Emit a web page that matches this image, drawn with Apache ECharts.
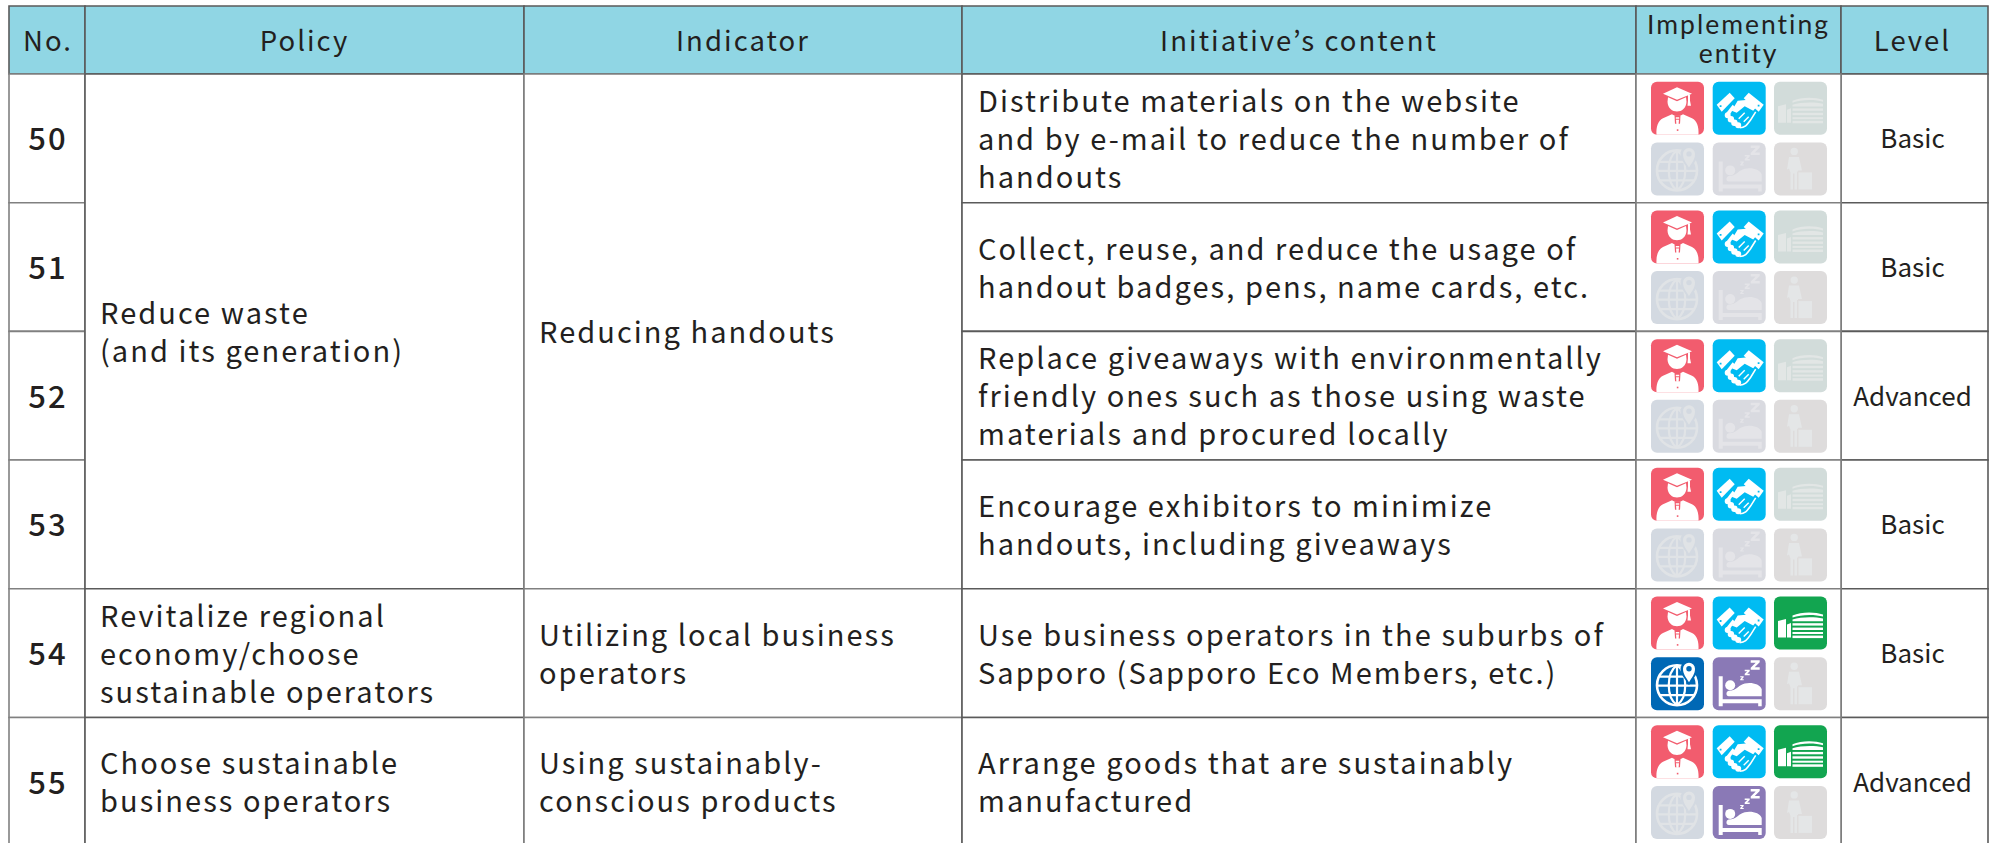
<!DOCTYPE html>
<html><head><meta charset="utf-8">
<style>
html,body{margin:0;padding:0;background:#fff;overflow:hidden}
#chart{width:1989px;height:843px}
#chart text{letter-spacing:2.05px}
#chart text[style*="Lato"]{letter-spacing:2px}
#chart text[style*="CJK SC"]{letter-spacing:0}
</style>
<script src="https://cdn.jsdelivr.net/npm/echarts@6/dist/echarts.min.js"></script>
</head><body><div id="chart"></div>
<script>
// ---------- table content ----------
const headers = ['No.', 'Policy', 'Indicator', 'Initiative\u2019s content', 'Implementing\nentity', 'Level'];
const numbers = ['50', '51', '52', '53', '54', '55'];
const policies = [
  { from: 0, to: 3, text: 'Reduce waste\n(and its generation)' },
  { from: 4, to: 4, text: 'Revitalize regional\neconomy/choose\nsustainable operators' },
  { from: 5, to: 5, text: 'Choose sustainable\nbusiness operators' }
];
const indicators = [
  { from: 0, to: 3, text: 'Reducing handouts' },
  { from: 4, to: 4, text: 'Utilizing local business\noperators' },
  { from: 5, to: 5, text: 'Using sustainably-\nconscious products' }
];
const initiatives = [
  'Distribute materials on the website\nand by e-mail to reduce the number of\nhandouts',
  'Collect, reuse, and reduce the usage of\nhandout badges, pens, name cards, etc.',
  'Replace giveaways with environmentally\nfriendly ones such as those using waste\nmaterials and procured locally',
  'Encourage exhibitors to minimize\nhandouts, including giveaways',
  'Use business operators in the suburbs of\nSapporo (Sapporo Eco Members, etc.)',
  'Arrange goods that are sustainably\nmanufactured'
];
const levels = ['Basic', 'Basic', 'Advanced', 'Basic', 'Basic', 'Advanced'];
// order of entities: organizer, partner, venue, destination, lodging, traveller
const entityActive = [
  [1, 1, 0, 0, 0, 0],
  [1, 1, 0, 0, 0, 0],
  [1, 1, 0, 0, 0, 0],
  [1, 1, 0, 0, 0, 0],
  [1, 1, 1, 1, 1, 0],
  [1, 1, 1, 0, 1, 0]
];

// ---------- layout and style ----------
const colEdges = [9, 85, 524, 962, 1636, 1841, 1988];
const rowEdges = [74, 202.7, 331.4, 460, 588.8, 717.5, 846];
const tableTop = 6;
const ink = '#231f20', headFill = '#90d6e4', lineDark = '#5a5a5a', lineRow = '#808080';
const FONT = '"Noto Sans CJK JP"', FONT_NARROW = '"Noto Sans CJK SC"', FONT_TIGHT = 'Lato';
const iconSize = 53, iconX = [1651, 1712.7, 1774], iconY = [7.8, 68.4];
const iconBg = [
  ['#f25c6e', '#f25c6e'], ['#00bbf2', '#00bbf2'], ['#12a550', '#d2dcda'],
  ['#0068b5', '#d3d9e1'], ['#8a79b6', '#d9dae0'], ['#8a8a8a', '#dedcdc']
];
const iconFgOff = ['#ffffff', '#ffffff', '#e2e6e5', '#e0e3e6', '#e4e4e8', '#e4e6e7'];

// glyph parts: [kind, pathData, strokeWidth]  f=fill fg, b=fill bg, s=stroke fg, t=stroke bg
const glyphs = [
  [ // graduate
    ['f', 'M26 5.5 L41 12 L26 18 L12 12 Z'],
    ['f', 'M17 15.5 L26 19.5 L35 15.5 L35.5 20 C35 33 17 33 16.5 20 Z'],
    ['f', 'M37 13 H39 V19 L40 24 H36.5 L37 19 Z'],
    ['f', 'M5.5 53 C5 45 7 39 12 36.5 L21 32.5 C24 34.5 29 34.5 32 32.5 L41 36.5 C46 39 48 45 47.5 53 Z'],
    ['b', 'M23.5 33.5 H29.5 L29 42 H24 Z'],
    ['f', 'M24.8 35.5 H28.2 V37 H24.8 Z M25 38 H28 L27.6 42.5 H25.4 Z'],
    ['b', 'M25.8 47.5 h1.6 v1.6 h-1.6 Z']
  ],
  [ // handshake
    ['f', 'M4 23 L17 11 L22 16.5 L9 30 Z'],
    ['f', 'M36 11 L51 23 L46 30 L31 16.5 Z'],
    ['b', 'M7 23.5 h1.8 v1.8 h-1.8 Z M45 23 h1.8 v1.8 h-1.8 Z'],
    ['f', 'M19 29 L25 19 L36 18 L43 26 L40.5 29 L32 24.5 L24 31 Z'],
    ['f', 'M13 32 L20 23 L22 25 L17 33 Z'],
    ['f', 'M12 33.5 a3 3 0 1 1 6 0 a3 3 0 1 1 -6 0 Z M15 37.5 a3.2 3.2 0 1 1 6.4 0 a3.2 3.2 0 1 1 -6.4 0 Z M18.5 41 a3.2 3.2 0 1 1 6.4 0 a3.2 3.2 0 1 1 -6.4 0 Z M22.5 43.5 a3 3 0 1 1 6 0 a3 3 0 1 1 -6 0 Z'],
    ['s', 'M27 46 C33 46 35 42 38 38 L43 30', 1.6],
    ['s', 'M31 40 L36 35 M26 37 L32 31', 1.4]
  ],
  [ // venue building
    ['f', 'M4 24.5 L12 22.5 V41 H4 Z'],
    ['f', 'M13 28 L17 26.5 V41 H13 Z'],
    ['f', 'M18.5 19 C27 15 41 15 49 18 V20 C41 17.6 27 17.6 18.5 21 Z'],
    ['f', 'M18.5 23 C27 20 41 20 49 22 V24.6 H18.5 Z'],
    ['f', 'M18.5 26.6 H49 V29 H18.5 Z'],
    ['f', 'M18.5 31 H49 V33.4 H18.5 Z'],
    ['f', 'M18.5 35.4 H49 V37.4 H18.5 Z'],
    ['f', 'M18.5 39 H49 V41.5 H18.5 Z']
  ],
  [ // globe and pin
    ['s', 'M6 28 a20 20 0 1 0 40 0 a20 20 0 1 0 -40 0 Z', 2.6],
    ['s', 'M8.5 19.5 H43.5 M6 28.5 H46 M8.5 38 H43.5', 2.2],
    ['s', 'M26 8 V48 M26 8 C15 16 15 40 26 48 M26 8 C37 16 37 40 26 48', 2.2],
    ['b', 'M38 28 C34 21 29.5 18 29.5 11.5 a8.5 8.5 0 1 1 17 0 C46.5 18 42 21 38 28 Z'],
    ['f', 'M38 25 C35 20 32 17 32 11.5 a6 6 0 1 1 12 0 C44 17 41 20 38 25 Z'],
    ['b', 'M35.3 11.5 a2.7 2.7 0 1 1 5.4 0 a2.7 2.7 0 1 1 -5.4 0 Z']
  ],
  [ // bed
    ['f', 'M6 19 H10 V42 H49 V49 H45.5 V46 H10 V49 H6 Z'],
    ['f', 'M12.5 28 a5 5 0 1 1 10 0 a5 5 0 1 1 -10 0 Z'],
    ['f', 'M16 33.5 C24 33 24 30 28 28 C35 24 47 26 49 32 V39 H16 C13 39 13 34 16 33.5 Z'],
    ['f', 'M38 3 H47 V5 L42 10 H47 V12.5 H38 V10.5 L43 5.5 H38 Z'],
    ['f', 'M32 12.5 H37 V14 L34.5 16.5 H37 V18 H32 V16.5 L34.5 14 H32 Z'],
    ['f', 'M27.5 19 H31 V20 L29.3 22 H31 V23 H27.5 V22 L29.2 20 H27.5 Z']
  ],
  [ // traveller
    ['f', 'M16.5 9 a3.7 3.7 0 1 1 7.4 0 a3.7 3.7 0 1 1 -7.4 0 Z'],
    ['f', 'M15 14.5 H25 L28 28 H24 V29 H23 V47 H20.5 V31 H19 V47 H16.5 V30 L15 26 L13 27 Z'],
    ['f', 'M24.5 30 H38 V47 H24.5 Z']
  ]
];

// ---------- series data built from the arrays ----------
const cells = [];   // [colIndex, fromRow, toRow, text]   fromRow -1 = header
headers.forEach((h, c) => cells.push([c, -1, -1, h]));
numbers.forEach((n, r) => cells.push([0, r, r, n]));
policies.forEach(p => cells.push([1, p.from, p.to, p.text]));
indicators.forEach(p => cells.push([2, p.from, p.to, p.text]));
initiatives.forEach((t, r) => cells.push([3, r, r, t]));
levels.forEach((t, r) => cells.push([5, r, r, t]));

const entityCells = numbers.map((n, r) => [4, r, r]);
const icons = [];   // [rowIndex, entityIndex, active]
entityActive.forEach((row, r) => row.forEach((a, e) => icons.push([r, e, a])));

function cellRect(c, from, to, api) {
  const head = from < 0;
  const a = api.coord([colEdges[c], head ? tableTop : rowEdges[from]]);
  const b = api.coord([colEdges[c + 1], head ? rowEdges[0] : rowEdges[to + 1]]);
  return { a, b, head };
}
function cellBox(c, a, b, head) {
  return { type: 'rect', shape: { x: a[0], y: a[1], width: b[0] - a[0], height: b[1] - a[1] },
    style: { fill: head ? headFill : '#fff', stroke: head || c % 2 ? lineDark : lineRow, lineWidth: 1.6 } };
}
function renderEntityCell(params, api) {
  const c = api.value(0);
  const { a, b } = cellRect(c, api.value(1), api.value(2), api);
  return cellBox(c, a, b, false);
}
function renderCell(params, api) {
  const c = api.value(0), from = api.value(1), to = api.value(2);
  const text = cells[params.dataIndex][3];
  const { a, b, head } = cellRect(c, from, to, api);
  const leftAligned = !head && (c === 1 || c === 2 || c === 3);
  const pad = { 1: 15, 2: 15, 3: 16 }[c] || 0;
  const nudgeX = c === 5 ? -2 : c === 0 ? 1 : 0;
  let font;
  if (head) font = c === 4 ? '400 26.5px ' + FONT_TIGHT : '400 27.5px ' + FONT;
  else if (c === 0) font = '500 31px ' + FONT;
  else if (c === 5) font = '400 26px ' + FONT_NARROW;
  else font = '400 29px ' + FONT;
  return {
    type: 'group',
    children: [
      cellBox(c, a, b, head),
      { type: 'text', z2: 5,
        style: { text, x: (leftAligned ? a[0] + pad : (a[0] + b[0]) / 2) + nudgeX, y: (a[1] + b[1]) / 2 - 1.5,
          align: leftAligned ? 'left' : 'center', verticalAlign: 'middle',
          font, fill: ink, lineHeight: head && c === 4 ? 29 : 38 } }
    ]
  };
}

function renderIcon(params, api) {
  const r = api.value(0), e = api.value(1), on = api.value(2);
  const pos = api.coord([iconX[e % 3], rowEdges[r] + iconY[e < 3 ? 0 : 1]]);
  const bg = iconBg[e][on ? 0 : 1];
  const fg = on ? '#ffffff' : iconFgOff[e];
  const children = [{ type: 'rect', shape: { x: 0, y: 0, width: iconSize, height: iconSize, r: 6 }, style: { fill: bg } }];
  glyphs[e].forEach(part => {
    const kind = part[0];
    const style = (kind === 'f' || kind === 'b')
      ? { fill: kind === 'f' ? fg : bg }
      : { fill: 'none', stroke: kind === 's' ? fg : bg, lineWidth: part[2] };
    children.push({
      type: 'path',
      shape: { pathData: 'M0 0 L0 0 M53 53 L53 53 ' + part[1], x: 0, y: 0, width: iconSize, height: iconSize, layout: 'cover' },
      style
    });
  });
  return { type: 'group', x: pos[0], y: pos[1], children };
}

const chart = echarts.init(document.getElementById('chart'), null, { renderer: 'svg', width: 1989, height: 843 });
chart.setOption({
  animation: false,
  backgroundColor: '#ffffff',
  grid: { left: 0, right: 0, top: 0, bottom: 0 },
  xAxis: { type: 'value', min: 0, max: 1989, show: false },
  yAxis: { type: 'value', min: 0, max: 843, inverse: true, show: false },
  series: [
    { type: 'custom', coordinateSystem: 'cartesian2d', clip: false, silent: true, renderItem: renderCell,
      encode: { x: 0, y: 1 }, data: cells.map(d => d.slice(0, 3)), z: 1 },
    { type: 'custom', coordinateSystem: 'cartesian2d', clip: false, silent: true, renderItem: renderEntityCell,
      encode: { x: 0, y: 1 }, data: entityCells, z: 1 },
    { type: 'custom', coordinateSystem: 'cartesian2d', clip: false, silent: true, renderItem: renderIcon,
      data: icons, z: 2 }
  ]
});
</script></body></html>
